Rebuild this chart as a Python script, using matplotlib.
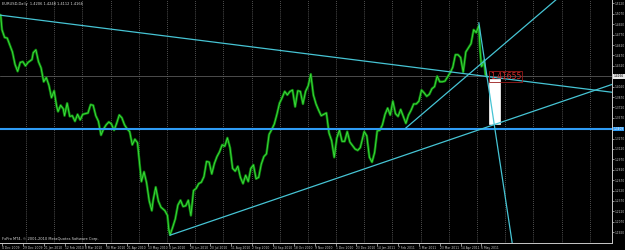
# -*- coding: utf-8 -*-
"""
EURUSD Daily - MT4 style chart with trendlines
"""
import numpy as np
import matplotlib.pyplot as plt
from matplotlib.patches import Rectangle
import matplotlib.transforms as mtransforms

# #############################################################################
# data

HOLIDAYS = ['2009-12-25', '2010-01-01']
ORIGIN = '2009-12-04'

dates = ['2009-12-02', '2009-12-03', '2009-12-04', '2009-12-08', '2009-12-10', '2009-12-14',
         '2009-12-16', '2009-12-18', '2009-12-22', '2009-12-24', '2009-12-29', '2009-12-31',
         '2010-01-05', '2010-01-08', '2010-01-11', '2010-01-13', '2010-01-15', '2010-01-19',
         '2010-01-21', '2010-01-25', '2010-01-27', '2010-01-29', '2010-02-02', '2010-02-04',
         '2010-02-05', '2010-02-09', '2010-02-11', '2010-02-12', '2010-02-16', '2010-02-18',
         '2010-02-22', '2010-02-24', '2010-02-26', '2010-03-02', '2010-03-04', '2010-03-08',
         '2010-03-10', '2010-03-12', '2010-03-16', '2010-03-18', '2010-03-22', '2010-03-24',
         '2010-03-26', '2010-03-30', '2010-04-01', '2010-04-05', '2010-04-07', '2010-04-09',
         '2010-04-13', '2010-04-15', '2010-04-19', '2010-04-21', '2010-04-23', '2010-04-27',
         '2010-04-29', '2010-05-03', '2010-05-05', '2010-05-06', '2010-05-10', '2010-05-12',
         '2010-05-14', '2010-05-18', '2010-05-19', '2010-05-21', '2010-05-25', '2010-05-27',
         '2010-06-01', '2010-06-03', '2010-06-04', '2010-06-07', '2010-06-09', '2010-06-11',
         '2010-06-15', '2010-06-17', '2010-06-21', '2010-06-23', '2010-06-25', '2010-06-29',
         '2010-07-01', '2010-07-05', '2010-07-07', '2010-07-09', '2010-07-13', '2010-07-15',
         '2010-07-19', '2010-07-21', '2010-07-23', '2010-07-27', '2010-07-29', '2010-08-02',
         '2010-08-04', '2010-08-06', '2010-08-10', '2010-08-12', '2010-08-16', '2010-08-18',
         '2010-08-20', '2010-08-24', '2010-08-26', '2010-08-30', '2010-09-01', '2010-09-03',
         '2010-09-07', '2010-09-09', '2010-09-13', '2010-09-15', '2010-09-17', '2010-09-21',
         '2010-09-23', '2010-09-27', '2010-09-29', '2010-10-01', '2010-10-05', '2010-10-07',
         '2010-10-11', '2010-10-13', '2010-10-15', '2010-10-19', '2010-10-21', '2010-10-25',
         '2010-10-27', '2010-10-29', '2010-11-02', '2010-11-04', '2010-11-08', '2010-11-10',
         '2010-11-12', '2010-11-16', '2010-11-18', '2010-11-22', '2010-11-24', '2010-11-26',
         '2010-11-30', '2010-12-02', '2010-12-06', '2010-12-08', '2010-12-10', '2010-12-14',
         '2010-12-16', '2010-12-20', '2010-12-22', '2010-12-24', '2010-12-28', '2010-12-31',
         '2011-01-04', '2011-01-06', '2011-01-10', '2011-01-12', '2011-01-14', '2011-01-18',
         '2011-01-20', '2011-01-24', '2011-01-26', '2011-01-28', '2011-02-01', '2011-02-03',
         '2011-02-07', '2011-02-09', '2011-02-11', '2011-02-15', '2011-02-17', '2011-02-21',
         '2011-02-23', '2011-02-25', '2011-03-01', '2011-03-03', '2011-03-07', '2011-03-09',
         '2011-03-11', '2011-03-15', '2011-03-17', '2011-03-21', '2011-03-23', '2011-03-25',
         '2011-03-29', '2011-03-31', '2011-04-04', '2011-04-06', '2011-04-08', '2011-04-12',
         '2011-04-14', '2011-04-18', '2011-04-20', '2011-04-22', '2011-04-26', '2011-04-28',
         '2011-05-02', '2011-05-04', '2011-05-05', '2011-05-06', '2011-05-09', '2011-05-10',
         '2011-05-11', '2011-05-12']

closes = [1.5060, 1.5050, 1.4840, 1.4730, 1.4720, 1.4620,
          1.4520, 1.4340, 1.4240, 1.4370, 1.4380, 1.4320,
          1.4370, 1.4410, 1.4510, 1.4550, 1.4380, 1.4290,
          1.4090, 1.4150, 1.4040, 1.3860, 1.3960, 1.3730,
          1.3660, 1.3750, 1.3700, 1.3600, 1.3780, 1.3590,
          1.3600, 1.3520, 1.3620, 1.3540, 1.3620, 1.3630,
          1.3640, 1.3760, 1.3750, 1.3600, 1.3520, 1.3320,
          1.3410, 1.3470, 1.3510, 1.3480, 1.3390, 1.3490,
          1.3610, 1.3570, 1.3470, 1.3410, 1.3370, 1.3180,
          1.3260, 1.3210, 1.2830, 1.2650, 1.2790, 1.2630,
          1.2370, 1.2230, 1.2380, 1.2570, 1.2370, 1.2280,
          1.2230, 1.2160, 1.1960, 1.1880, 1.1990, 1.2110,
          1.2310, 1.2380, 1.2290, 1.2300, 1.2380, 1.2160,
          1.2520, 1.2550, 1.2620, 1.2640, 1.2720, 1.2940,
          1.2930, 1.2760, 1.2910, 1.3010, 1.3080, 1.3180,
          1.3160, 1.3280, 1.3140, 1.2840, 1.2800, 1.2870,
          1.2710, 1.2620, 1.2740, 1.2650, 1.2840, 1.2890,
          1.2690, 1.2710, 1.2900, 1.3010, 1.3050, 1.3330,
          1.3400, 1.3480, 1.3620, 1.3780, 1.3860, 1.3950,
          1.3900, 1.3950, 1.3970, 1.3730, 1.3960, 1.3950,
          1.3770, 1.3950, 1.4030, 1.4200, 1.3900, 1.3770,
          1.3680, 1.3600, 1.3620, 1.3640, 1.3350, 1.3240,
          1.3000, 1.3280, 1.3390, 1.3230, 1.3230, 1.3370,
          1.3220, 1.3170, 1.3120, 1.3100, 1.3140, 1.3370,
          1.3310, 1.3000, 1.2930, 1.3070, 1.3380, 1.3390,
          1.3470, 1.3620, 1.3710, 1.3610, 1.3810, 1.3630,
          1.3590, 1.3690, 1.3590, 1.3490, 1.3610, 1.3680,
          1.3770, 1.3770, 1.3810, 1.3970, 1.3930, 1.3880,
          1.3910, 1.3990, 1.4020, 1.4170, 1.4090, 1.4090,
          1.4100, 1.4160, 1.4220, 1.4300, 1.4480, 1.4480,
          1.4440, 1.4230, 1.4520, 1.4580, 1.4640, 1.4840,
          1.4800, 1.4900, 1.4530, 1.4310, 1.4340, 1.4400,
          1.4200, 1.4166]

# time axis labels
label_dates = ['2009-12-04', '2009-12-29', '2010-01-21', '2010-02-12', '2010-03-08',
               '2010-03-30', '2010-04-21', '2010-05-13', '2010-06-04', '2010-06-28',
               '2010-07-20', '2010-08-11', '2010-09-02', '2010-09-24', '2010-10-18',
               '2010-11-09', '2010-12-01', '2010-12-23', '2011-01-14', '2011-02-07',
               '2011-03-01', '2011-03-23', '2011-04-14', '2011-05-06']
label_text = ['4 Dec 2009', '29 Dec 2009', '21 Jan 2010', '12 Feb 2010', '8 Mar 2010',
              '30 Mar 2010', '21 Apr 2010', '13 May 2010', '4 Jun 2010', '28 Jun 2010',
              '20 Jul 2010', '11 Aug 2010', '2 Sep 2010', '24 Sep 2010', '18 Oct 2010',
              '9 Nov 2010', '1 Dec 2010', '23 Dec 2010', '14 Jan 2011', '7 Feb 2011',
              '1 Mar 2011', '23 Mar 2011', '14 Apr 2011', '6 May 2011']

price_ticks = [1.5220 - 0.0150 * k for k in range(23)]

# trendline anchors (date, price)
line_a = [('2009-12-03', 1.5050), ('2011-03-25', 1.4247)]   # long falling line
line_b = [('2011-02-15', 1.3423), ('2011-03-10', 1.3696)]   # steep rising line
line_c = [('2010-06-07', 1.1876), ('2011-01-10', 1.2870)]   # support from June low
line_d = [('2011-05-04', 1.4940), ('2011-05-12', 1.4195)]   # drop from the top

hline_price = 1.3409
bid_price = 1.4166
rect_dates = ['2011-05-16', '2011-05-26']
rect_prices = [1.3480, 1.4130]
ohlc_text = 'EURUSD,Daily  1.4206 1.4248 1.4112 1.4166'


def bar(d):
    return np.busday_count(ORIGIN, d, holidays=HOLIDAYS)


# #############################################################################
# figure

fg = '#c8c8c8'
trend_col = '#46c4d4'
XMIN, XMAX = -1.535, 468.2
YMIN, YMAX = 1.1763, 1.5270

fig = plt.figure(figsize=(6.25, 2.5), dpi=100, facecolor='black')
ax = fig.add_axes([0, 7 / 250, 612 / 625, 243 / 250])
ax.set_facecolor('black')
ax.set_xlim(XMIN, XMAX)
ax.set_ylim(YMIN, YMAX)

for s in ['left', 'top']:
    ax.spines[s].set_visible(False)
for s in ['right', 'bottom']:
    ax.spines[s].set_color(fg)
    ax.spines[s].set_linewidth(0.7)

# vertical dotted grid
for gx in np.arange(18.4, XMAX, 21.64):
    ax.axvline(gx, color='#9a9a9a', lw=0.5, ls=(0, (1, 2)), zorder=1)

# price
x = bar(dates)
ax.plot(x, closes, color='#0e850e', lw=1.8, zorder=3)
ax.plot(x, closes, color='#3ee03e', lw=0.6, zorder=4)

# horizontal lines
ax.axhline(bid_price, color='#6a6a6a', lw=0.5, zorder=2)
ax.axhline(hline_price, color='#2f9cf5', lw=1.5, zorder=5)


def ray(pts, both=False):
    (d1, p1), (d2, p2) = pts
    x1, x2 = bar(d1), bar(d2)
    k = (p2 - p1) / (x2 - x1)
    xs = np.array([XMIN if both else x1, XMAX])
    ax.plot(xs, p1 + k * (xs - x1), color=trend_col, lw=0.9, zorder=6)


ray(line_a, both=True)
ray(line_b)
ray(line_c)
ray(line_d)

# white rectangle
rx = bar(rect_dates)
ax.add_patch(Rectangle((rx[0], rect_prices[0]), rx[1] - rx[0],
                       rect_prices[1] - rect_prices[0],
                       facecolor='white', edgecolor='white', lw=0.5, zorder=5))

# price label
ax.text(rx[0] + 0.5, bid_price, '1.41655', color='#d42a2a', fontsize=5.5,
        va='center', ha='left', zorder=8,
        bbox=dict(boxstyle='square,pad=0.15', fc='none', ec='#9a1a1a', lw=0.6))

# axis ticks (labels under the highlighted ones are left out)
shown = [p for p in price_ticks
         if abs(p - bid_price) > 0.007 and abs(p - hline_price) > 0.007]
ax.yaxis.tick_right()
ax.set_yticks(shown)
ax.set_yticklabels(['%.4f' % p for p in shown])
ax.tick_params(axis='y', colors=fg, labelsize=2.1, length=1.2, width=0.5, pad=0.6)
ax.set_xticks(bar(label_dates))
ax.set_xticklabels(label_text, ha='left')
ax.tick_params(axis='x', colors=fg, labelsize=2.2, length=2, width=0.5, pad=0.5)

# highlighted labels on the price scale
trans = mtransforms.blended_transform_factory(ax.transAxes, ax.transData)
ax.text(1.003, bid_price, '%.4f' % bid_price, transform=trans, fontsize=2.1,
        color='black', va='center', ha='left', clip_on=False, zorder=9,
        bbox=dict(boxstyle='square,pad=0.15', fc='#e8e8e8', ec='none'))
ax.text(1.003, hline_price, '%.4f' % hline_price, transform=trans, fontsize=2.1,
        color='white', va='center', ha='left', clip_on=False, zorder=9,
        bbox=dict(boxstyle='square,pad=0.15', fc='#2f9cf5', ec='none'))

# texts
fig.text(2 / 625, 1 - 4 / 250, ohlc_text, fontsize=2.6, color='#d8d8d8', va='center')
ax.text(0.003, 0.008, 'FxPro MT4, \u00a9 2001-2010 MetaQuotes Software Corp.',
        transform=ax.transAxes, fontsize=2.6, color='#d8d8d8', va='bottom')

fig.savefig('out.png', dpi=100, facecolor='black')
